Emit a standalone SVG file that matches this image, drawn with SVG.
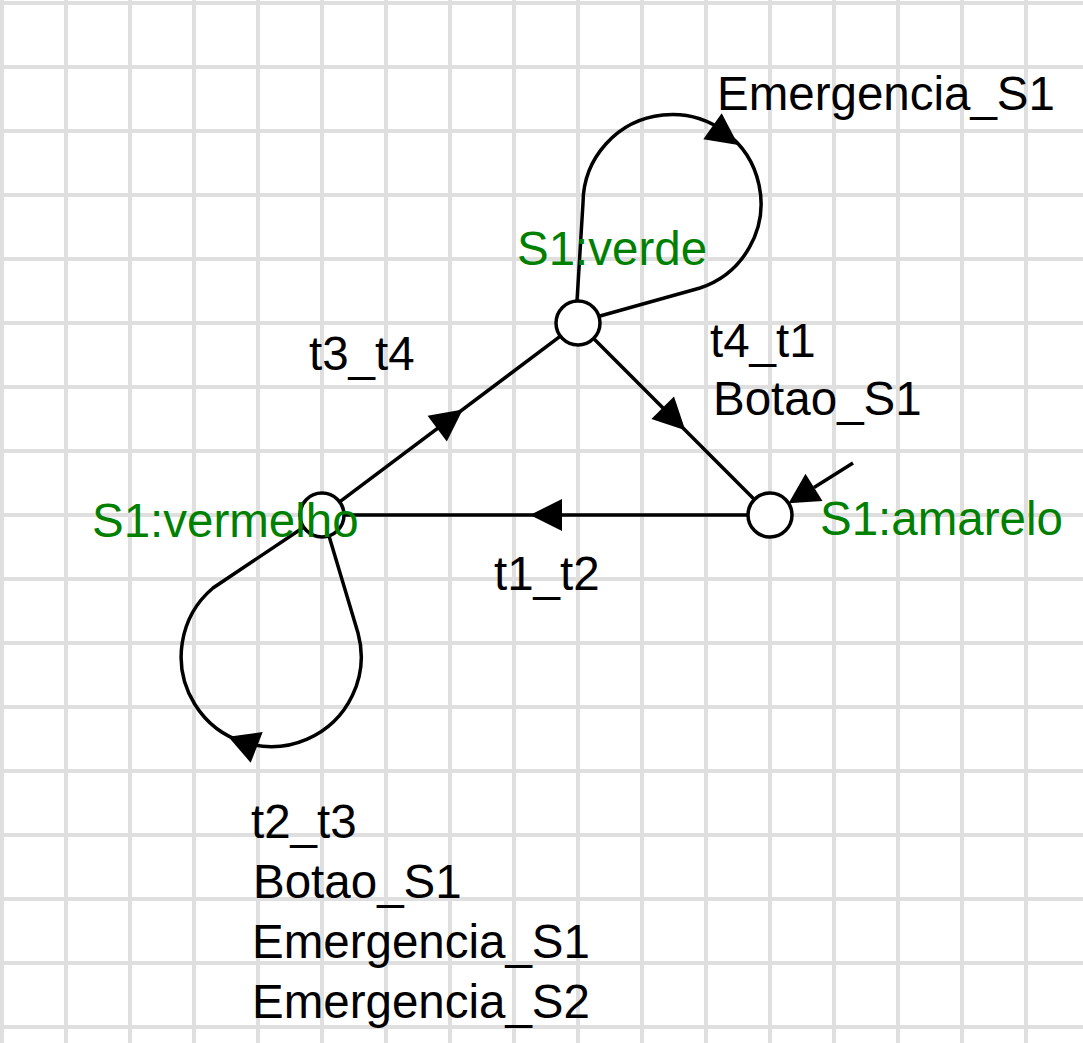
<svg xmlns="http://www.w3.org/2000/svg" width="1083" height="1043" viewBox="0 0 1083 1043">
<style>
.grid{stroke:#dfdfdf;stroke-width:4;fill:none}
.edge{stroke:#000;stroke-width:3.5;fill:none}
.head{fill:#000;stroke:none}
.place{fill:#fff;stroke:#000;stroke-width:3.5}
.lbl{font-family:"Liberation Sans",Arial,sans-serif;font-size:47.5px;fill:#000}
.name{font-family:"Liberation Sans",Arial,sans-serif;font-size:47.5px;fill:#008000}
</style>
<rect width="1083" height="1043" fill="#fff"/>
<g id="grid">
<path class="grid" d="M2 0V1043M66 0V1043M130 0V1043M194 0V1043M258 0V1043M322 0V1043M386 0V1043M450 0V1043M514 0V1043M578 0V1043M642 0V1043M706 0V1043M770 0V1043M834 0V1043M898 0V1043M962 0V1043M1026 0V1043M0 3H1083M0 67H1083M0 131H1083M0 195H1083M0 259H1083M0 323H1083M0 387H1083M0 451H1083M0 515H1083M0 579H1083M0 643H1083M0 707H1083M0 771H1083M0 835H1083M0 899H1083M0 963H1083M0 1027H1083"/>
</g>
<g id="connectors">
<path class="edge" d="M748 515H344"/>
<polygon class="head" points="530,515 562,499 562,531"/>
<path class="edge" d="M339.6 501.8L560.4 336.2"/>
<polygon class="head" points="462.8,409.4 446.8,441.4 427.6,415.8"/>
<path class="edge" d="M593.6 338.6L754.4 499.4"/>
<polygon class="head" points="685.3,430.3 674,396.4 651.4,419"/>
<path class="edge" d="M577 301L583 203A89 89 0 1 1 700 288L600 316"/>
<polygon class="head" points="738.3,145 721.7,113.3 703.3,139.3"/>
<path class="edge" d="M329 536L358 633A90 90 0 1 1 213 588L304 527"/>
<polygon class="head" points="228.3,736.7 262.7,732 250.7,762.7"/>
<path class="edge" d="M853 463L814 487.4"/>
<polygon class="head" points="788.6,503.3 822.5,501 805.5,473.8"/>
</g>
<g id="verde">
<circle class="place" cx="578" cy="323" r="22"/>
<text class="name" x="517" y="265">S1:verde</text>
</g>
<g id="vermelho">
<circle class="place" cx="322" cy="515" r="22"/>
<text class="name" x="92" y="537">S1:vermelho</text>
</g>
<g id="amarelo">
<circle class="place" cx="770" cy="515" r="22"/>
<text class="name" x="820" y="535">S1:amarelo</text>
</g>
<g id="labels">
<text class="lbl" x="717" y="110">Emergencia_S1</text>
<text class="lbl" x="309" y="370">t3_t4</text>
<text class="lbl" x="710" y="357">t4_t1</text>
<text class="lbl" x="713" y="415">Botao_S1</text>
<text class="lbl" x="494" y="590">t1_t2</text>
<text class="lbl" x="251" y="838">t2_t3</text>
<text class="lbl" x="253" y="898">Botao_S1</text>
<text class="lbl" x="252" y="958">Emergencia_S1</text>
<text class="lbl" x="252" y="1018">Emergencia_S2</text>
</g>
</svg>
